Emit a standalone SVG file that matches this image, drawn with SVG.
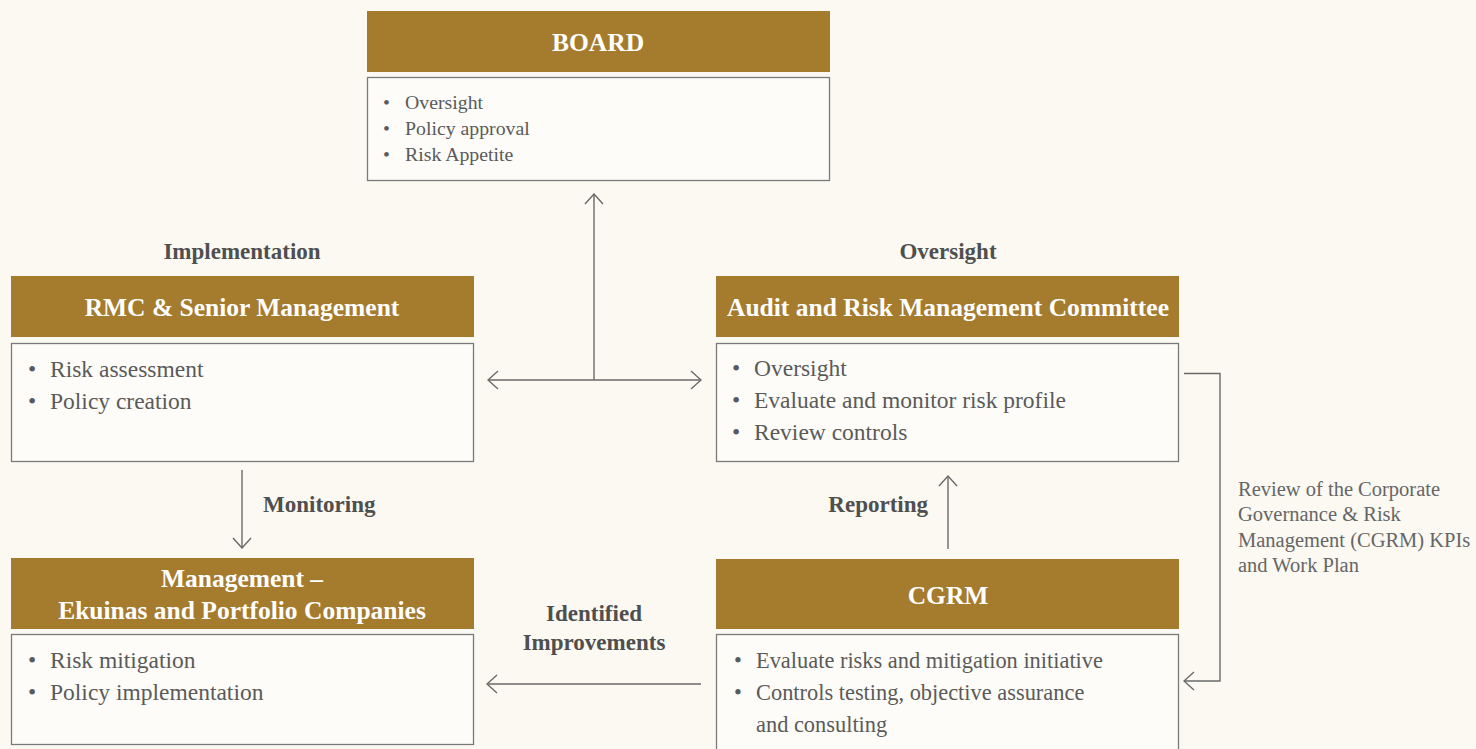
<svg xmlns="http://www.w3.org/2000/svg" width="1476" height="749" viewBox="0 0 1476 749">
<style>
.hdr{fill:#a57b2e}
.body{fill:#fdfcf8;stroke:#7a7a7a;stroke-width:1.3}
.ht{font-family:"Liberation Serif",serif;font-weight:bold;fill:#ffffff;text-anchor:middle;font-size:25.5px}
.bt{font-family:"Liberation Serif",serif;fill:#5a5a5a}
.lbl{font-family:"Liberation Serif",serif;font-weight:bold;fill:#4f4f4f;font-size:23px}
.note{font-family:"Liberation Serif",serif;fill:#666;font-size:20.5px}
.con{fill:none;stroke:#6a6a6a;stroke-width:1.4}
</style>
<defs>
<marker id="ah" viewBox="0 0 12 20" refX="11" refY="10" markerWidth="12" markerHeight="20" markerUnits="userSpaceOnUse" orient="auto-start-reverse">
<path d="M1,1 L11,10 L1,19" fill="none" stroke="#6a6a6a" stroke-width="1.4"/>
</marker>
</defs>
<rect width="1476" height="749" fill="#fbf9f2"/>

<g id="board">
<rect class="hdr" x="367" y="11" width="463" height="61"/>
<text class="ht" x="598" y="51">BOARD</text>
<rect class="body" x="367.5" y="77.5" width="462" height="103"/>
<g class="bt" font-size="19.8">
<text x="383" y="109">•</text><text x="405" y="109">Oversight</text>
<text x="383" y="135">•</text><text x="405" y="135">Policy approval</text>
<text x="383" y="161">•</text><text x="405" y="161">Risk Appetite</text>
</g>
</g>

<g id="rmc">
<rect class="hdr" x="11" y="276" width="463" height="61"/>
<text class="ht" x="242" y="316">RMC &amp; Senior Management</text>
<rect class="body" x="11.5" y="343.5" width="462" height="118"/>
<g class="bt" font-size="23.5">
<text x="28" y="377">•</text><text x="50" y="377">Risk assessment</text>
<text x="28" y="409">•</text><text x="50" y="409">Policy creation</text>
</g>
</g>

<g id="arc">
<rect class="hdr" x="716" y="276" width="463" height="61"/>
<text class="ht" x="948" y="316">Audit and Risk Management Committee</text>
<rect class="body" x="716.5" y="343.5" width="462" height="118"/>
<g class="bt" font-size="23.5">
<text x="732" y="376">•</text><text x="754" y="376">Oversight</text>
<text x="732" y="408">•</text><text x="754" y="408">Evaluate and monitor risk profile</text>
<text x="732" y="440">•</text><text x="754" y="440">Review controls</text>
</g>
</g>

<g id="mgmt">
<rect class="hdr" x="11" y="558" width="463" height="71"/>
<text class="ht" x="242" y="587">Management –</text>
<text class="ht" x="242" y="619">Ekuinas and Portfolio Companies</text>
<rect class="body" x="11.5" y="634.5" width="462" height="110"/>
<g class="bt" font-size="23.5">
<text x="28" y="668">•</text><text x="50" y="668">Risk mitigation</text>
<text x="28" y="700">•</text><text x="50" y="700">Policy implementation</text>
</g>
</g>

<g id="cgrm">
<rect class="hdr" x="716" y="559" width="463" height="70"/>
<text class="ht" x="948" y="604">CGRM</text>
<rect class="body" x="716.5" y="634.5" width="462" height="120"/>
<g class="bt" font-size="22.4">
<text x="734" y="668">•</text><text x="756" y="668">Evaluate risks and mitigation initiative</text>
<text x="734" y="700">•</text><text x="756" y="700">Controls testing, objective assurance</text>
<text x="756" y="732">and consulting</text>
</g>
</g>

<g id="connectors">
<line class="con" x1="594" y1="380" x2="594" y2="194" marker-end="url(#ah)"/>
<line class="con" x1="488" y1="380" x2="701" y2="380" marker-start="url(#ah)" marker-end="url(#ah)"/>
<line class="con" x1="242" y1="470" x2="242" y2="548" marker-end="url(#ah)"/>
<line class="con" x1="948" y1="549" x2="948" y2="476" marker-end="url(#ah)"/>
<line class="con" x1="701" y1="684" x2="487" y2="684" marker-end="url(#ah)"/>
<polyline class="con" points="1184,373.5 1220,373.5 1220,681 1184,681" marker-end="url(#ah)"/>
</g>

<g id="labels">
<text class="lbl" x="242" y="259" text-anchor="middle">Implementation</text>
<text class="lbl" x="948" y="259" text-anchor="middle">Oversight</text>
<text class="lbl" x="263" y="512">Monitoring</text>
<text class="lbl" x="928" y="512" text-anchor="end">Reporting</text>
<text class="lbl" x="594" y="621" text-anchor="middle">Identified</text>
<text class="lbl" x="594" y="650" text-anchor="middle">Improvements</text>
<text class="note" x="1238" y="496">Review of the Corporate</text>
<text class="note" x="1238" y="521">Governance &amp; Risk</text>
<text class="note" x="1238" y="547">Management (CGRM) KPIs</text>
<text class="note" x="1238" y="572">and Work Plan</text>
</g>
</svg>
